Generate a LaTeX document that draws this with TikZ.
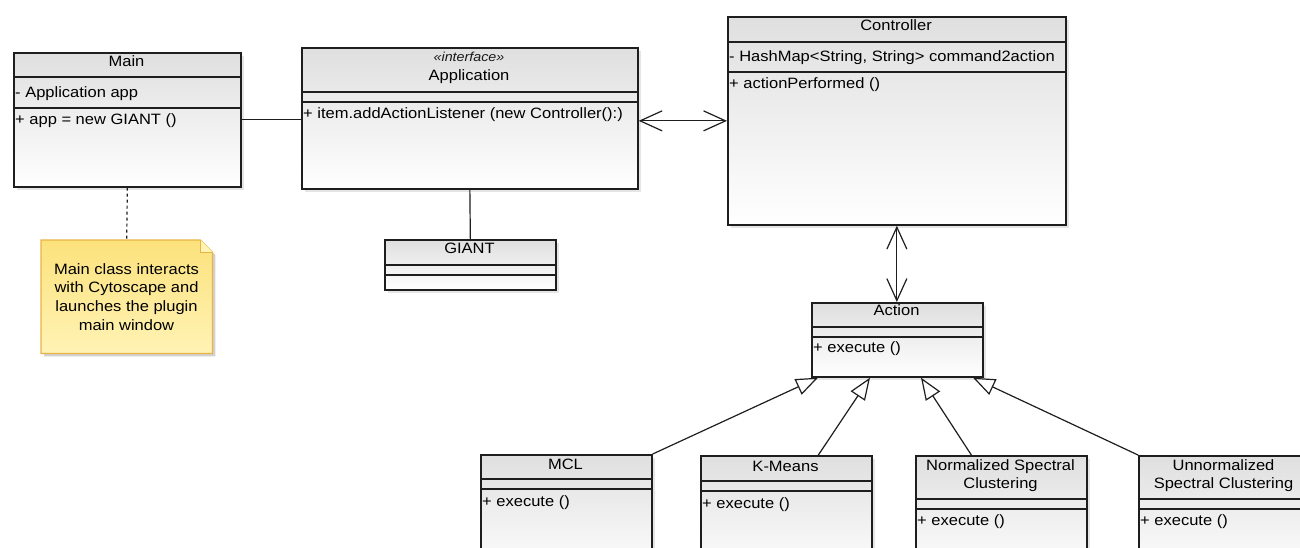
\documentclass[tikz,border=0pt]{standalone}
\usepackage{fontspec}
\setmainfont{Liberation Sans}[FakeStretch=1.1]
\usetikzlibrary{arrows.meta, shadows}
\definecolor{umlline}{HTML}{1E1E1E}
\definecolor{notetop}{HTML}{FCE27C}
\definecolor{notebot}{HTML}{FFF3B5}
\definecolor{noteedge}{HTML}{E9B446}
\tikzset{
    classbox/.style={draw=umlline, line width=1.7pt, rectangle, top color=gray!25, bottom color=white, anchor=north west, inner sep=0pt, drop shadow={shadow xshift=3pt, shadow yshift=-3pt, opacity=0.2}},
    sepline/.style={draw=umlline, line width=1.4pt},
    classname/.style={font=\fontsize{15}{18}\selectfont, align=center, inner sep=0pt, text=black},
    member/.style={font=\fontsize{15}{18}\selectfont, anchor=base west, inner sep=0pt, text=black},
    stereo/.style={font=\fontsize{13}{15}\selectfont\itshape, anchor=base, inner sep=0pt, text=black!90},
    assoc/.style={draw=umlline, line width=1.2pt},
    navig/.style={assoc, {Straight Barb[length=22pt, width=20pt]}-{Straight Barb[length=22pt, width=20pt]}},
    inherit/.style={assoc, -{Triangle[length=22pt, width=17pt, fill=white]}},
    notelink/.style={assoc, dashed},
    notearea/.style={anchor=north west, inner sep=0pt},
    notetext/.style={font=\fontsize{15}{18.8}\selectfont, align=center, inner sep=0pt, text=black} }
% name, left, top, width, height, first and second separator (from top)
\newcommand{\umlclass}[7]{%
  \node[classbox, minimum width=#4pt, minimum height=#5pt] (#1) at (#2,#3) {};
  \draw[sepline] ([yshift=-#6pt]#1.north west) -- ([yshift=-#6pt]#1.north east);
  \draw[sepline] ([yshift=-#7pt]#1.north west) -- ([yshift=-#7pt]#1.north east);
}

\begin{document}
\begin{tikzpicture}[x=1pt, y=-1pt]
  \fill[white] (0,0) rectangle (1300,547);
  \useasboundingbox (0,0) rectangle (1300,547);
  % ---- classes
  \umlclass{main}{13}{52}{227}{134}{25}{56}
  \umlclass{app}{301}{47}{336}{141}{45}{55}
  \umlclass{ctrl}{727}{16}{338}{208}{26}{56}
  \umlclass{giant}{384}{239}{171}{50}{26}{36}
  \umlclass{action}{811}{302}{171}{74}{25}{35}
  \umlclass{mcl}{480}{454}{171}{120}{25}{35}
  \umlclass{kmeans}{700}{455}{171}{120}{26}{36}
  \umlclass{norm}{915}{455}{171}{120}{44}{54}
  \umlclass{unnorm}{1138}{455}{171}{120}{44}{54}
  % ---- class texts
  \node[classname, anchor=base] (mainname) at (126.5,66.5) {Main};
  \node[member] (mainattr) at (15,97.5) {- Application app};
  \node[member] (mainop) at (15,124.5) {+ app = new GIANT ()};
  \node[stereo] (appstereo) at (469,61.5) {«interface»};
  \node[classname, anchor=base] (appname) at (469,80.5) {Application};
  \node[member] (appop) at (303,118.5) {+ item.addActionListener (new Controller():)};
  \node[classname, anchor=base] (ctrlname) at (896,30.5) {Controller};
  \node[member] (ctrlattr) at (729,61.5) {- HashMap<String, String> command2action};
  \node[member] (ctrlop) at (729,88.5) {+ actionPerformed ()};
  \node[classname, anchor=base] (giantname) at (469.5,253.5) {GIANT};
  \node[classname, anchor=base] (actionname) at (896.5,315.5) {Action};
  \node[member] (actionop) at (813,352.5) {+ execute ()};
  \node[classname, anchor=base] (mclname) at (565.5,469.5) {MCL};
  \node[member] (mclop) at (482,506.5) {+ execute ()};
  \node[classname, anchor=base] (kmeansname) at (785.5,471.5) {K-Means};
  \node[member] (kmeansop) at (702,508.5) {+ execute ()};
  \node[classname] (normname) at (1000.5,476) {Normalized Spectral\\Clustering};
  \node[member] (normop) at (917,525.5) {+ execute ()};
  \node[classname] (unnormname) at (1223.5,476) {Unnormalized\\Spectral Clustering};
  \node[member] (unnormop) at (1140,525.5) {+ execute ()};
  % ---- note
  \node[notearea, minimum width=171pt, minimum height=113pt] (note) at (41,240) {};
  \fill[black, opacity=0.18] ([shift={(3pt,-3pt)}]note.north west) -- ([shift={(-9pt,-3pt)}]note.north east) -- ([shift={(3pt,-15pt)}]note.north east) -- ([shift={(3pt,-3pt)}]note.south east) -- ([shift={(3pt,-3pt)}]note.south west) -- cycle;
  \path[draw=noteedge, line width=1.2pt, top color=notetop, bottom color=notebot]
    (note.north west) -- ([xshift=-12pt]note.north east) -- ([yshift=-12pt]note.north east) -- (note.south east) -- (note.south west) -- cycle;
  \path[draw=noteedge, line width=1pt, fill=notebot]
    ([xshift=-12pt]note.north east) -- ([shift={(-12pt,-12pt)}]note.north east) -- ([yshift=-12pt]note.north east);
  \node[notetext] (notebody) at (126.5,297) {Main class interacts\\with Cytoscape and\\launches the plugin\\main window};
  % ---- connectors
  \draw[assoc] (main.east) -- (main.east -| app.west);
  \draw[navig] (app.east |- ctrl.west) -- (ctrl.west);
  \draw[assoc] (app.south) -- (giant.north);
  \draw[navig] (ctrl.south) -- (ctrl.south |- action.north);
  \draw[notelink] (main.south) -- (note.north);
  \draw[inherit] (mcl.north east) -- ([xshift=7pt]action.south west);
  \draw[inherit] ([xshift=32pt]kmeans.north) -- ([xshift=59pt]action.south west);
  \draw[inherit] ([xshift=-30pt]norm.north) -- ([xshift=110pt]action.south west);
  \draw[inherit] (unnorm.north west) -- ([xshift=162pt]action.south west);
\end{tikzpicture}
\end{document}
